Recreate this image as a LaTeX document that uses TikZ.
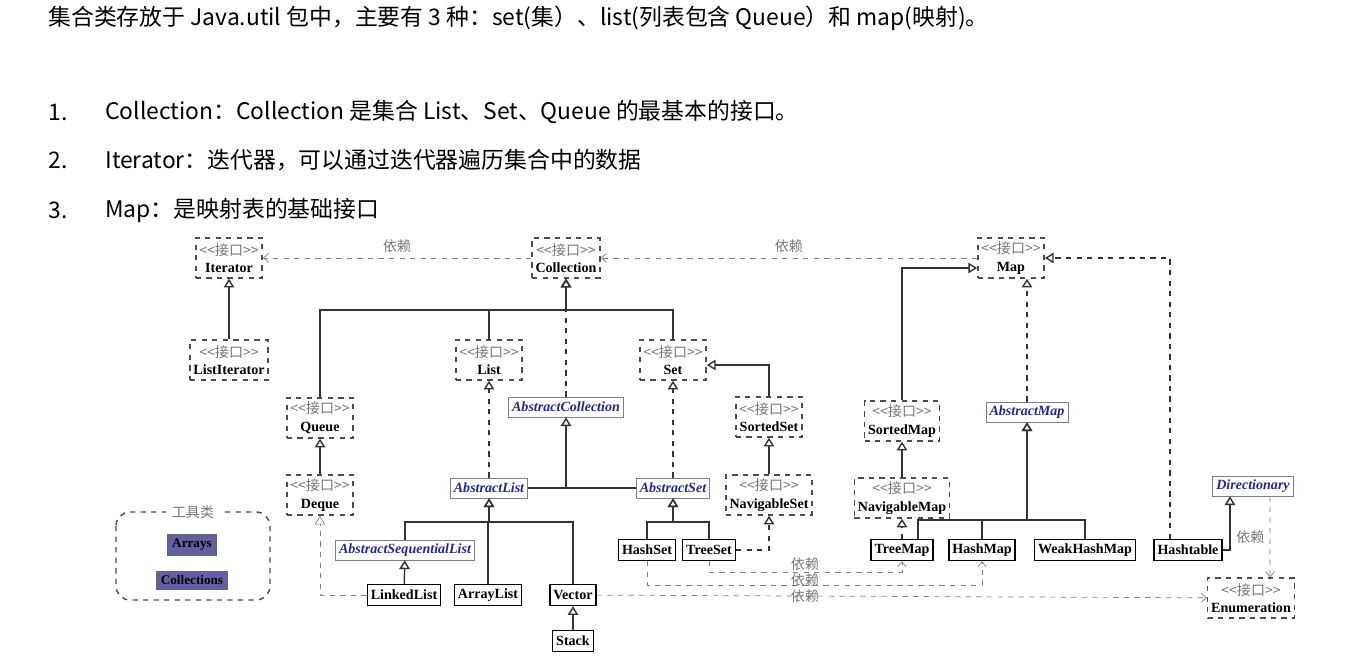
\documentclass[tikz,border=0pt]{standalone}
\usepackage{fontspec}
\setmainfont{Liberation Serif}
\newfontfamily\cjk{Noto Sans CJK SC}
\newfontfamily\song{Noto Sans CJK SC}
\usetikzlibrary{arrows.meta, positioning}
\definecolor{stereoGray}{RGB}{120,120,120}
\definecolor{absBlue}{RGB}{40,40,140}
\definecolor{toolViolet}{RGB}{100,95,160}
\newcommand{\stereo}{{\song\mdseries\color{stereoGray}<\kern0pt<接口>\kern0pt>}}
\tikzset{
    iface/.style={rectangle, draw=black!70, dashed, thick, align=center, font=\fontsize{8}{10}\selectfont\bfseries, inner sep=2pt, minimum height=0.8cm},
    abst/.style={rectangle, draw=gray, fill=white, font=\fontsize{8}{9}\selectfont\bfseries\itshape, text=absBlue, inner sep=2pt, minimum height=0.4cm},
    cls/.style={rectangle, draw=black, thick, font=\fontsize{8}{9}\selectfont\bfseries, inner sep=2pt, minimum height=0.42cm},
    tool/.style={rectangle, draw=black!60, fill=toolViolet, font=\fontsize{7.5}{8}\selectfont\bfseries, inner sep=2.5pt},
    head/.style={anchor=west, font=\cjk\fontsize{13}{16}\selectfont, inner sep=0pt},
    ext/.style={draw=black!80, thick, -{Triangle[open, length=5pt, width=6pt]}},
    impl/.style={ext, dashed},
    link/.style={draw=black!80, thick},
    dep/.style={draw=gray, dashed, -{Straight Barb[length=3pt, width=5pt]}},
    deptext/.style={font=\song\fontsize{8}{9}\selectfont, text=stereoGray, inner sep=1pt}
}
\begin{document}
\begin{tikzpicture}[x=0.02cm, y=-0.02cm]
    \useasboundingbox (0,0) rectangle (1350,667);

    % Heading text
    \node (intro) [head] at (48,18) {集合类存放于 Java.util 包中，主要有 3 种：set(集）、list(列表包含 Queue）和 map(映射)。};
    \node (n1) [head] at (48,112) {1.};
    \node (t1) [head] at (105,112) {Collection：Collection 是集合 List、Set、Queue 的最基本的接口。};
    \node (n2) [head] at (48,160) {2.};
    \node (t2) [head] at (105,160) {Iterator：迭代器，可以通过迭代器遍历集合中的数据};
    \node (n3) [head] at (48,210) {3.};
    \node (t3) [head] at (105,210) {Map：是映射表的基础接口};

    % Interfaces
    \node (iterator) [iface] at (229,258) {\stereo\\Iterator};
    \node (collection) [iface] at (566,258) {\stereo\\Collection};
    \node (map) [iface] at (1011,258) {\stereo\\Map};
    \node (listiter) [iface] at (229,360) {\stereo\\ListIterator};
    \node (list) [iface] at (489,360) {\stereo\\List};
    \node (set) [iface] at (673,360) {\stereo\\Set};
    \node (queue) [iface] at (320,418) {\stereo\\Queue};
    \node (sortedset) [iface] at (769,417) {\stereo\\SortedSet};
    \node (sortedmap) [iface] at (902,421) {\stereo\\SortedMap};
    \node (deque) [iface] at (320,495) {\stereo\\Deque};
    \node (navset) [iface] at (769,495) {\stereo\\NavigableSet};
    \node (navmap) [iface] at (902,498) {\stereo\\NavigableMap};
    \node (enumeration) [iface] at (1251,598) {\stereo\\Enumeration};

    % Abstract classes
    \node (abscoll) [abst] at (566,407) {AbstractCollection};
    \node (absmap) [abst] at (1027,412) {AbstractMap};
    \node (abslist) [abst] at (489,488) {AbstractList};
    \node (absset) [abst] at (673,488) {AbstractSet};
    \node (dict) [abst] at (1253,486) {Directionary};
    \node (absseq) [abst] at (405,550) {AbstractSequentialList};

    % Concrete classes
    \node (hashset) [cls] at (647,550) {HashSet};
    \node (treeset) [cls] at (709,550) {TreeSet};
    \node (treemap) [cls] at (902,550) {TreeMap};
    \node (hashmap) [cls] at (982,550) {HashMap};
    \node (weakmap) [cls] at (1085,550) {WeakHashMap};
    \node (hashtable) [cls] at (1188,550) {Hashtable};
    \node (linked) [cls] at (404,595) {LinkedList};
    \node (array) [cls] at (488,595) {ArrayList};
    \node (vector) [cls] at (573,595) {Vector};
    \node (stack) [cls] at (573,641) {Stack};

    % Tool classes
    \draw [draw=black!70, dashed, thick, rounded corners=8pt] (116,512) rectangle (270,600);
    \node (tooltitle) [fill=white, font=\song\fontsize{8}{9}\selectfont, text=stereoGray] at (193,512) {工具类};
    \node (arrays) [tool] at (192,545) {Arrays};
    \node (colls) [tool] at (192,580) {Collections};

    % Bus points
    \coordinate (colbus) at (566,310);
    \coordinate (listbus) at (489,522);
    \coordinate (setbus) at (673,522);
    \coordinate (mapbus) at (1027,520);

    % Collection side
    \draw [dep] (collection) -- node[deptext, above=2pt] {依赖} (iterator);
    \draw [dep] (map) -- node[deptext, above=2pt] {依赖} (collection);
    \draw [ext] (listiter) -- (iterator);
    \draw [ext] (queue.north) |- (colbus) -- (collection.south);
    \draw [ext] (set.north) |- (colbus) -- (collection.south);
    \draw [link] (list.north) -- (list.north |- colbus);
    \draw [impl] (abscoll) -- (collection);
    \draw [ext] (deque) -- (queue);
    \draw [impl, draw=gray, thin] (linked.west) -| (deque.south);
    \draw [impl] (abslist) -- (list);
    \draw [impl] (absset) -- (set);
    \draw [link] (abslist) -- (absset);
    \draw [ext] (abscoll.south |- abslist) -- (abscoll);
    \draw [ext] (sortedset.north) |- ([yshift=-0.1cm]set.east);
    \draw [ext] (navset) -- (sortedset);
    \draw [impl] (treeset.east) -| (navset.south);
    \draw [ext] (hashset.north) |- (setbus) -- (absset.south);
    \draw [ext] (treeset.north) |- (setbus) -- (absset.south);
    \draw [ext] (absseq.north) |- (listbus) -- (abslist.south);
    \draw [ext] (vector.north) |- (listbus) -- (abslist.south);
    \draw [link] (array.north) -- (array.north |- listbus);
    \draw [ext] (linked) -- (absseq);
    \draw [ext] (stack) -- (vector);

    % Dependencies across
    \draw [dep] (treeset.south) |- (treemap.south |- 0,572) -- (treemap.south);
    \draw [dep] (hashset.south) |- (hashmap.south |- 0,585) -- (hashmap.south);
    \draw [dep] (vector) -- (enumeration);
    \node (dep1) [deptext] at (805,564) {依赖};
    \node (dep2) [deptext] at (805,580) {依赖};
    \node (dep3) [deptext] at (805,596) {依赖};

    % Map side
    \draw [ext] (sortedmap.north) |- ([yshift=-0.2cm]map.west);
    \draw [ext] (navmap) -- (sortedmap);
    \draw [impl] (treemap) -- (navmap);
    \draw [impl] (absmap) -- (absmap |- map.south);
    \draw [ext] ([xshift=0.32cm]treemap.north) |- (mapbus) -- (absmap.south);
    \draw [ext] (weakmap.north) |- (mapbus) -- (absmap.south);
    \draw [link] (hashmap.north) -- (hashmap.north |- mapbus);
    \draw [impl] ([xshift=-0.36cm]hashtable.north) |- (map.east);
    \draw [ext] (hashtable.east) -| ([xshift=-0.46cm]dict.south);
    \draw [dep] ([xshift=0.34cm]dict.south) -- node[deptext, left=2pt] {依赖} ([xshift=0.38cm]enumeration.north);
\end{tikzpicture}
\end{document}
